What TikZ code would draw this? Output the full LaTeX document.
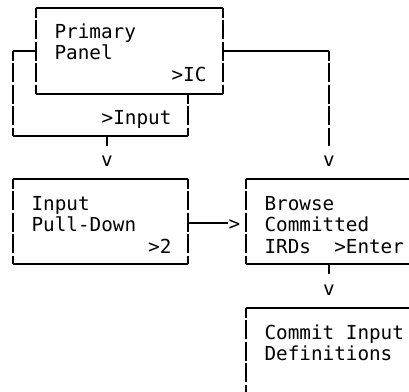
\documentclass[tikz,border=0pt]{standalone}
\usepackage{fontspec}
\setmonofont{DejaVu Sans Mono}
\usepackage{tikz}

% box made of solid rows and broken columns
\newcommand{\asciibox}[4]{%
  \draw (#1,#2) -- (#3,#2) (#1,#4) -- (#3,#4);
  \draw[vline] (#1,#2) -- (#1,#4) (#3,#2) -- (#3,#4);}

\begin{document}
\begin{tikzpicture}[
  x = 1pt, y = -1pt, line width = 1.1pt,
  every node/.style = {inner sep = 0pt, font = \ttfamily\fontsize{19.3}{21.5}\selectfont},
  txt/.style = {anchor = base west},
  txtr/.style = {anchor = base east},
  arrv/.style = {anchor = base, text height = 19pt},
  vline/.style = {dash pattern = on 19pt off 2.5pt, dash phase = 9.5pt}
  ]
  \clip (0,0) rectangle (409,391);

  % boxes
  \asciibox{36}{8}{223}{94}
  \asciibox{13}{179}{188}{264}
  \asciibox{246}{179}{440}{264}
  \asciibox{246}{308}{440}{420}

  % texts
  \node[txt] (prim1) at (54,38) {Primary};
  \node[txt] (prim2) at (54,59.5) {Panel};
  \node[txtr] (primIC) at (207,81) {>IC};
  \node[txtr] (primIn) at (172,124) {>Input};
  \node[txt] (pull1) at (31,210) {Input};
  \node[txt] (pull2) at (31,231.5) {Pull-Down};
  \node[txtr] (pull3) at (172,253) {>2};
  \node[txt] (brow1) at (264,210) {Browse};
  \node[txt] (brow2) at (264,231.5) {Committed};
  \node[txt] (brow3) at (264,253) {IRDs\ \ >Enter};
  \node[txt] (comm1) at (264,339) {Commit Input};
  \node[txt] (comm2) at (264,360.5) {Definitions};

  % arrow heads
  \node[arrv] (vPull) at (107,166) {v};
  \node[arrv] (vBrow) at (329,166) {v};
  \node[arrv] (vComm) at (329,295) {v};
  \node[txt] (gt) at (228,230.5) {>};

  % connectors
  \coordinate (primW) at (36,51);
  \coordinate (primE) at (223,51);
  \coordinate (loopSW) at (13,136);
  \coordinate (loopSE) at (188,136);
  \coordinate (pullE) at (188,223);
  \coordinate (browS) at (329,264);
  \draw (primW) -- (primW -| loopSW);
  \draw[vline] (primW -| loopSW) -- (loopSW);
  \draw (loopSW) -- (loopSE);
  \draw[vline] (loopSE |- 0,94) -- (loopSE);
  \draw[vline] (vPull |- loopSE) -- (vPull.north);
  \draw (primE) -- (primE -| vBrow);
  \draw[vline] (primE -| vBrow) -- (vBrow.north);
  \draw (pullE) -- (pullE -| gt.west);
  \draw[vline] (browS) -- (vComm.north);
\end{tikzpicture}
\end{document}
